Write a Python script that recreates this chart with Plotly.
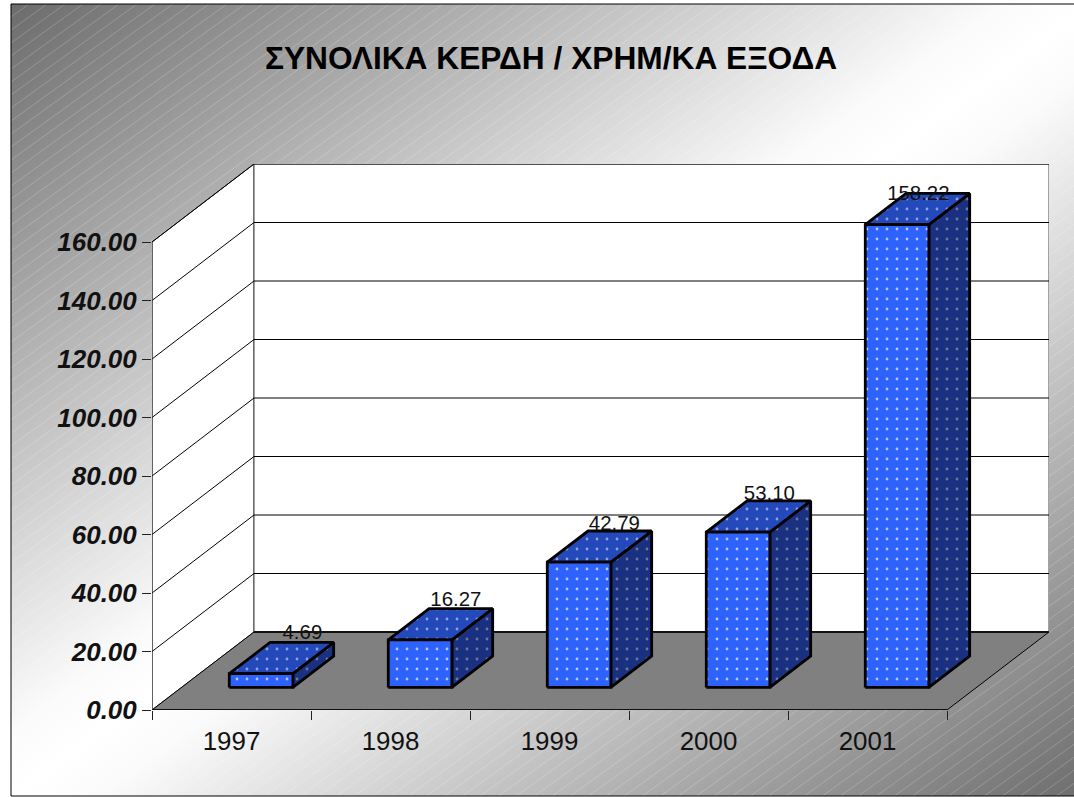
import base64
import plotly.graph_objects as go

# ---- data ----
categories = ["1997", "1998", "1999", "2000", "2001"]
values = [4.69, 16.27, 42.79, 53.10, 158.22]
value_ticks = [0, 20, 40, 60, 80, 100, 120, 140, 160]
title_text = "ΣΥΝΟΛΙΚΑ ΚΕΡΔΗ / ΧΡΗΜ/ΚΑ ΕΞΟΔΑ"

# ---- page geometry (pixels) ----
W, H = 1074, 797
PX_L, PX_R, PX_T, PX_B = 152, 1049, 164, 710   # plot box including the depth offset
PX_PER_CAT = 159.0
PX_PER_VAL = 2.925
DEPTH_X = 102 / PX_PER_CAT      # shift in category units for full depth
DEPTH_Y = 78 / PX_PER_VAL       # shift in value units for full depth
N = len(categories)
V_MAX = value_ticks[-1]
FONT = "Liberation Sans, Arial, sans-serif"


def proj(x, v, d):
    """Oblique projection of (category pos, value, depth 0..1) onto the 2-D axes."""
    return x + d * DEPTH_X, v + d * DEPTH_Y


def poly(points, fill, line_color="black", line_width=1.0, pattern=None):
    xs, ys = zip(*[proj(*p) for p in points])
    kw = {}
    if pattern:
        kw["fillpattern"] = pattern
    return go.Scatter(x=list(xs) + [xs[0]], y=list(ys) + [ys[0]], mode="lines", fill="toself",
                      fillcolor=fill, line=dict(color=line_color, width=line_width),
                      hoverinfo="skip", showlegend=False, cliponaxis=False, **kw)


def seg(a, b, color="black", width=1.0):
    xa, ya = proj(*a)
    xb, yb = proj(*b)
    return go.Scatter(x=[xa, xb], y=[ya, yb], mode="lines", line=dict(color=color, width=width),
                      hoverinfo="skip", showlegend=False, cliponaxis=False)


def dots(fg, bg):
    return dict(shape=".", size=10, solidity=0.06, fgcolor=fg, bgcolor=bg, fgopacity=1)


fig = go.Figure()

# walls and floor
fig.add_trace(poly([(0, 0, 0), (0, V_MAX, 0), (0, V_MAX, 1), (0, 0, 1)], "white", "#222222", 1))
fig.add_trace(poly([(0, 0, 1), (0, V_MAX, 1), (N, V_MAX, 1), (N, 0, 1)], "white", "#444444", 1))
for t in value_ticks[1:]:
    fig.add_trace(seg((0, t, 0), (0, t, 1), "black", 1))
    fig.add_trace(seg((0, t, 1), (N, t, 1), "black", 1))
fig.add_trace(poly([(0, 0, 0), (N, 0, 0), (N, 0, 1), (0, 0, 1)], "#808080", "black", 1))
fig.add_trace(seg((0, 0, 1), (N, 0, 1), "#111111", 2))
fig.add_trace(seg((0, 0, 0), (N, 0, 0), "black", 1.5))
fig.add_trace(seg((0, 0, 0), (0, V_MAX, 0), "#333333", 1))

# bars
D0, D1 = 0.29, 0.69
B0, B1 = 0.3, 0.7
for i, v in enumerate(values):
    x0, x1 = i + B0, i + B1
    fig.add_trace(poly([(x1, 0, D0), (x1, v, D0), (x1, v, D1), (x1, 0, D1)], "#1a3182", "black", 2.8,
                       dots("#6d7898", "#1a3182")))
    fig.add_trace(poly([(x0, v, D0), (x1, v, D0), (x1, v, D1), (x0, v, D1)], "#2449bb", "black", 2.8,
                       dots("#8fa2dc", "#2449bb")))
    fig.add_trace(poly([(x0, 0, D0), (x1, 0, D0), (x1, v, D0), (x0, v, D0)], "#2e62fd", "black", 2.8,
                       dots("#b4c6ff", "#2e62fd")))

# data labels: the reference places them slightly off the bar's back edge (pixel nudges)
label_nudge_x_px = [0.5, -5, -5.5, -9.5, -19.5]
label_nudge_y_px = [-2, -3, -4, -4, -12]
lx, ly = [], []
for i, v in enumerate(values):
    px_x, px_y = proj(i + 0.5, v, D1)
    lx.append(px_x + label_nudge_x_px[i] / PX_PER_CAT)
    ly.append(px_y + label_nudge_y_px[i] / PX_PER_VAL)
fig.add_trace(go.Scatter(x=lx, y=ly, mode="text", text=[f"{v:.2f}" for v in values],
                         textposition="top center", textfont=dict(family=FONT, size=20.4, color="#111111"),
                         hoverinfo="skip", showlegend=False, cliponaxis=False))

# background: diagonal grey gradient with fine hatching
svg = '''<svg xmlns="http://www.w3.org/2000/svg" width="1080" height="792" viewBox="0 0 1080 792">
<defs>
<linearGradient id="g" x1="0" y1="0" x2="1" y2="1">
<stop offset="0" stop-color="#6c6c6c"/><stop offset="0.46" stop-color="#fbfbfb"/><stop offset="0.5" stop-color="#ffffff"/>
<stop offset="0.54" stop-color="#fbfbfb"/><stop offset="1" stop-color="#6c6c6c"/>
</linearGradient>
<pattern id="h" width="18" height="13" patternUnits="userSpaceOnUse">
<path d="M-18 13 L18 -13 M0 13 L18 0 M0 26 L36 0" stroke="#ffffff" stroke-opacity="0.28" stroke-width="0.7" fill="none"/>
</pattern>
</defs>
<rect width="1080" height="792" fill="url(#g)"/>
<rect width="1080" height="792" fill="url(#h)"/>
</svg>'''
uri = "data:image/svg+xml;base64," + base64.b64encode(svg.encode()).decode()
pw, ph = PX_R - PX_L, PX_B - PX_T
fig.add_layout_image(dict(source=uri, xref="paper", yref="paper",
                          x=(11 - PX_L) / pw, y=(PX_B - 4) / ph,
                          sizex=1080 / pw, sizey=792 / ph,
                          xanchor="left", yanchor="top", sizing="stretch", layer="below"))
# outer frame
fig.add_shape(type="rect", xref="paper", yref="paper",
              x0=(11 - PX_L) / pw, x1=(1090 - PX_L) / pw,
              y0=(PX_B - 796) / ph, y1=(PX_B - 4) / ph,
              line=dict(color="black", width=1), fillcolor="rgba(0,0,0,0)", layer="below")

fig.update_layout(
    width=W, height=H, autosize=False,
    margin=dict(l=PX_L, r=W - PX_R, t=PX_T, b=H - PX_B),
    paper_bgcolor="white", plot_bgcolor="rgba(0,0,0,0)",
    title=dict(text=f"<b>{title_text}</b>", x=551 / W, xref="container", xanchor="center",
               y=1 - 58 / H, yref="container", yanchor="middle",
               font=dict(family=FONT, size=31.7, color="black")),
    showlegend=False,
    xaxis=dict(range=[0, N + DEPTH_X], showgrid=False, zeroline=False, showline=False,
               tickmode="array", tickvals=[i + 0.5 for i in range(N)], ticktext=categories,
               ticks="", ticklabelstandoff=13,
               tickfont=dict(family=FONT, size=25.9, color="#111111"),
               minor=dict(tickmode="array", tickvals=list(range(N + 1)), ticks="outside",
                          ticklen=9, tickcolor="#222222", tickwidth=1, showgrid=False)),
    yaxis=dict(range=[0, V_MAX + DEPTH_Y], showgrid=False, zeroline=False, showline=False,
               tickmode="array", tickvals=value_ticks,
               ticktext=[f"<b><i>{t:.2f}</i></b>" for t in value_ticks],
               ticks="outside", ticklen=9, tickcolor="#222222", tickwidth=1, ticklabelstandoff=0,
               tickfont=dict(family=FONT, size=26, color="#111111")),
)

fig.write_html("out.html", config={"displayModeBar": False},
               post_script="document.body.style.margin='0';document.body.style.overflow='hidden';")
